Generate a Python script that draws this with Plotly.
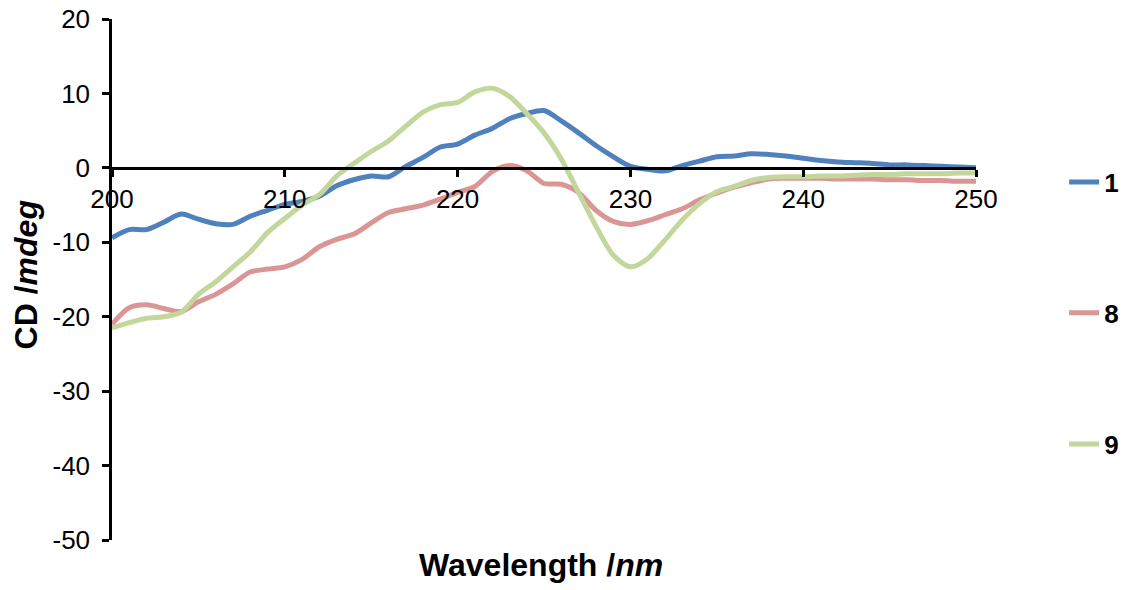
import plotly.graph_objects as go

# CD spectra, 200-250 nm
wavelength = list(range(200, 251))

cd_1 = [-9.4, -8.3, -8.3, -7.3, -6.2, -6.9, -7.5, -7.6, -6.5, -5.7,
        -4.9, -4.5, -3.8, -2.4, -1.6, -1.1, -1.2, 0.2, 1.4, 2.8,
        3.2, 4.4, 5.3, 6.6, 7.3, 7.7, 6.3, 4.7, 3.0, 1.5,
        0.2, -0.2, -0.4, 0.3, 0.9, 1.5, 1.6, 1.9, 1.8, 1.6,
        1.3, 1.0, 0.8, 0.7, 0.6, 0.4, 0.4, 0.3, 0.2, 0.1, 0.0]

cd_8 = [-21.0, -18.8, -18.4, -18.9, -19.3, -18.0, -17.0, -15.6, -14.0, -13.6,
        -13.3, -12.3, -10.6, -9.6, -8.9, -7.4, -6.0, -5.5, -5.0, -4.2,
        -3.3, -2.5, -0.5, 0.3, -0.4, -2.1, -2.2, -3.3, -5.7, -7.2,
        -7.6, -7.1, -6.3, -5.5, -4.3, -3.4, -2.6, -2.0, -1.5, -1.4,
        -1.4, -1.4, -1.5, -1.5, -1.5, -1.6, -1.6, -1.7, -1.7, -1.8, -1.8]

cd_9 = [-21.5, -20.8, -20.2, -20.0, -19.4, -17.0, -15.3, -13.3, -11.3, -8.7,
        -6.8, -5.0, -3.6, -1.1, 0.6, 2.2, 3.6, 5.6, 7.5, 8.5,
        8.8, 10.2, 10.7, 9.6, 7.3, 4.7, 1.2, -3.3, -7.8, -11.7,
        -13.3, -12.2, -9.7, -7.0, -4.8, -3.2, -2.5, -1.7, -1.3, -1.2,
        -1.2, -1.1, -1.1, -1.0, -0.9, -0.9, -0.8, -0.8, -0.8, -0.7, -0.7]

series_names = ["1", "8", "9"]
series_values = [cd_1, cd_8, cd_9]
series_colors = ["#4F81BD", "#D99694", "#C3D69B"]
legend_ids = ["legend", "legend2", "legend3"]
legend_y = [0.687, 0.436, 0.184]

x_ticks = [200, 210, 220, 230, 240, 250]
y_ticks = [20, 10, 0, -10, -20, -30, -40, -50]
y_tick_labels = [str(v) for v in y_ticks]  # plain hyphen minus

y_min, y_max = -50, 20

FONT = "Liberation Sans, Arial, sans-serif"

fig = go.Figure()
for name, vals, color, lid in zip(series_names, series_values, series_colors, legend_ids):
    fig.add_trace(go.Scatter(
        x=wavelength, y=vals, name=name, mode="lines",
        line=dict(color=color, width=5, shape="spline", smoothing=0.8),
        legend=lid, showlegend=True,
    ))

legend_common = dict(
    x=1.102, xanchor="left", yanchor="middle",
    font=dict(family=FONT, size=26, color="black", weight="bold"),
    bgcolor="rgba(0,0,0,0)", itemwidth=30, visible=True,
)

fig.update_layout(
    width=1125, height=590,
    margin=dict(l=112, r=149, t=19, b=50, autoexpand=False),
    showlegend=True,
    paper_bgcolor="white", plot_bgcolor="white",
    font=dict(family=FONT, size=26, color="black"),
    xaxis=dict(
        range=[200, 250], tickvals=x_ticks,
        anchor="free", position=(0 - y_min) / (y_max - y_min),
        showline=True, linecolor="black", linewidth=2.5,
        ticks="outside", ticklen=7, tickwidth=2.5, tickcolor="black",
        ticklabelstandoff=0, automargin=False,
        showgrid=False, zeroline=False,
        tickfont=dict(family=FONT, size=26, color="black"),
    ),
    yaxis=dict(
        range=[y_min, y_max], tickvals=y_ticks, ticktext=y_tick_labels,
        showline=True, linecolor="black", linewidth=2.5,
        ticks="outside", ticklen=7, tickwidth=2.5, tickcolor="black",
        ticklabelstandoff=7, automargin=False,
        showgrid=False, zeroline=False,
        tickfont=dict(family=FONT, size=26, color="black"),
    ),
    legend=dict(legend_common, y=legend_y[0]),
    legend2=dict(legend_common, y=legend_y[1]),
    legend3=dict(legend_common, y=legend_y[2]),
    annotations=[
        dict(text="<b>Wavelength /<i>nm</i></b>", xref="paper", yref="paper",
             x=0.497, y=-0.048, xanchor="center", yanchor="middle", showarrow=False,
             font=dict(family=FONT, size=32, color="black")),
        dict(text="<b>CD /<i>mdeg</i></b>", xref="paper", yref="paper",
             x=-0.1, y=0.509, xanchor="center", yanchor="middle", showarrow=False,
             textangle=-90,
             font=dict(family=FONT, size=32, color="black")),
    ],
)

fig.write_html("out.html")
